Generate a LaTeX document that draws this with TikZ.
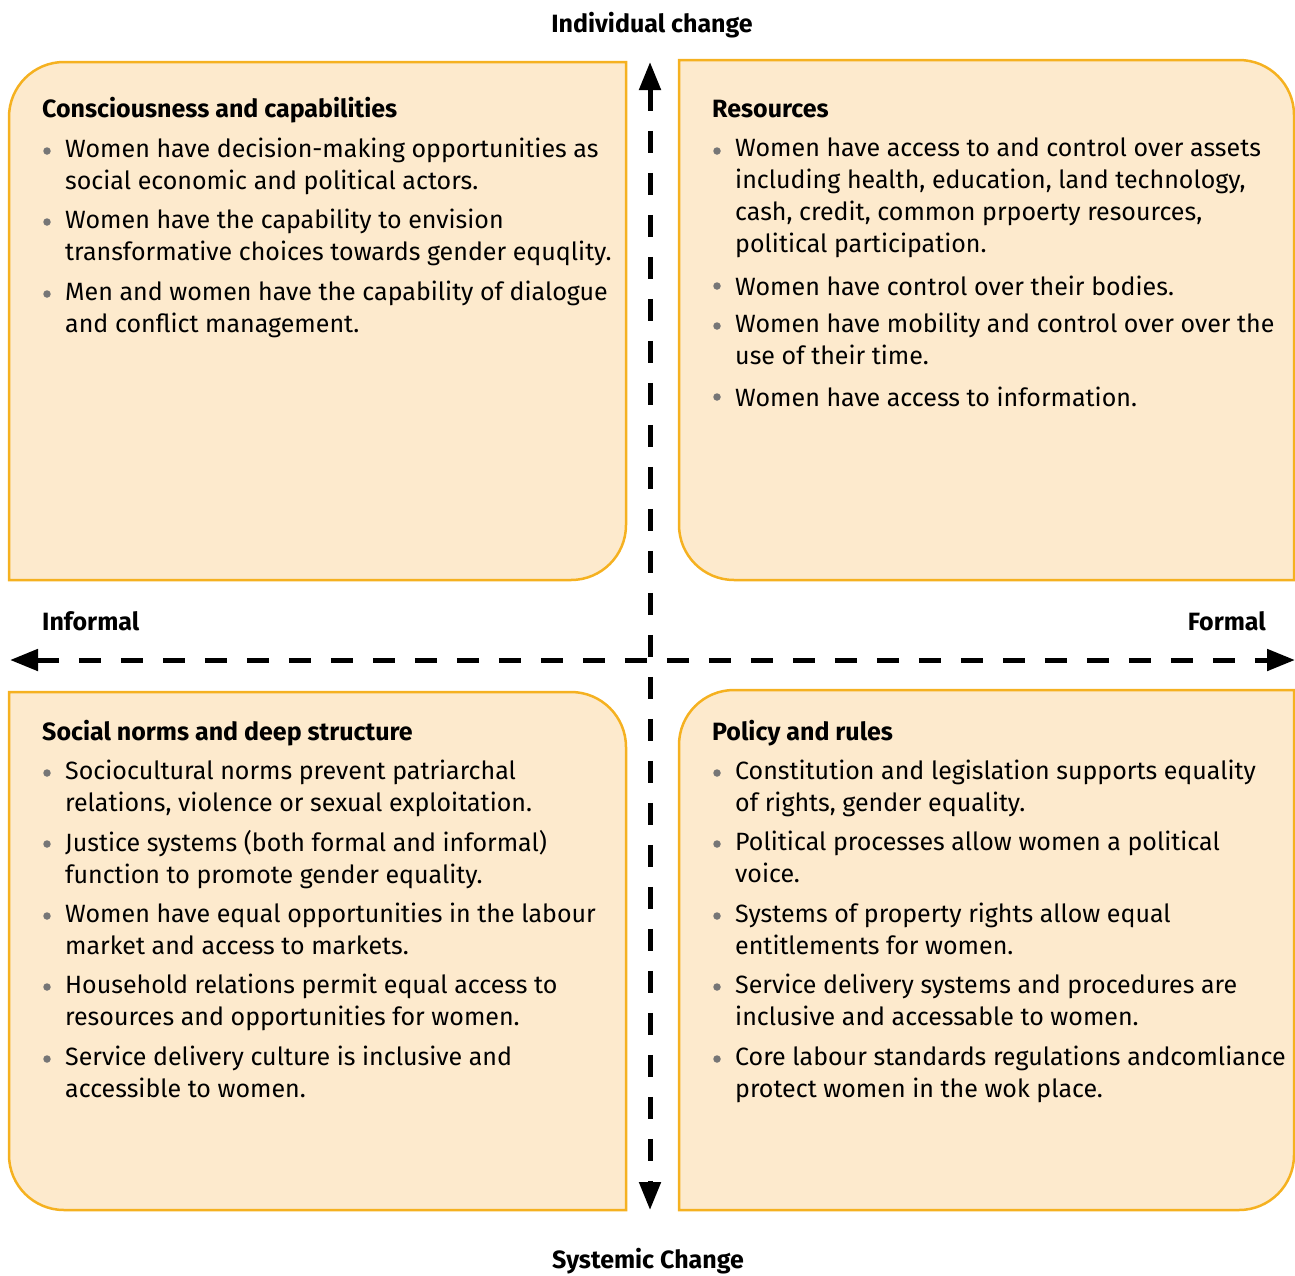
\documentclass[tikz,border=0pt]{standalone}
\usepackage{fontspec}
\setmainfont{Fira Sans}
\usetikzlibrary{arrows.meta}
\definecolor{boxfill}{HTML}{FDEACD}
\definecolor{boxline}{HTML}{F5B120}
\definecolor{dotgray}{HTML}{767676}
\begin{document}
\begin{tikzpicture}[x=1pt,y=-1pt,
    quad/.style={fill=boxfill,draw=boxline,line width=2.5pt},
    head/.style={anchor=base west,inner sep=0pt,font=\fontsize{25}{32}\selectfont\bfseries},
    item/.style={anchor=north west,inner sep=0pt,align=left,font=\fontsize{25}{32}\selectfont,execute at begin node=\strut},
    dot/.style={circle,fill=dotgray,inner sep=0pt,minimum size=7.5pt},
    axislabel/.style={inner sep=0pt,font=\fontsize{25}{32}\selectfont\bfseries},
    axis/.style={line width=5pt,dash pattern=on 22pt off 20pt,{Triangle[length=28pt,width=21pt]}-{Triangle[length=28pt,width=21pt]}}]
    \useasboundingbox (0,0) rectangle (1295,1275);

    % the four quadrants
    \filldraw[quad] (9,580) -- (9,117) .. controls (9,86.6) and (33.6,62) .. (64,62) -- (626,62) -- (626,525) .. controls (626,555.4) and (601.4,580) .. (571,580) -- cycle;
    \filldraw[quad] (679,60) -- (1239,60) .. controls (1269.4,60) and (1294,84.6) .. (1294,115) -- (1294,580) -- (734,580) .. controls (703.6,580) and (679,555.4) .. (679,525) -- cycle;
    \filldraw[quad] (9,692) -- (571,692) .. controls (601.4,692) and (626,716.6) .. (626,747) -- (626,1210) -- (64,1210) .. controls (33.6,1210) and (9,1185.4) .. (9,1155) -- cycle;
    \filldraw[quad] (679,745) .. controls (679,714.6) and (703.6,690) .. (734,690) -- (1294,690) -- (1294,1155) .. controls (1294,1185.4) and (1269.4,1210) .. (1239,1210) -- (679,1210) -- cycle;

    % axes
    \coordinate (top) at (650,62);
    \coordinate (bottom) at (650,1210);
    \coordinate (left) at (10,660);
    \coordinate (right) at (1295,660);
    \draw[axis] (left) -- (right);
    \draw[axis] (top) -- (bottom);

    \node[axislabel,anchor=base] (indiv) at (652,32) {Individual change};
    \node[axislabel,anchor=base] (system) at (648,1268) {Systemic Change};
    \node[axislabel,anchor=base west] (informal) at (42,630) {Informal};
    \node[axislabel,anchor=base east] (formal) at (1266,630) {Formal};

    % top left
    \node[head] (consc) at (42,117) {Consciousness and capabilities};
    \foreach \y/\txt in {158/{Women have decision-making opportunities as\\social economic and political actors.},
                         229/{Women have the capability to envision\\transformative choices towards gender equqlity.},
                         301/{Men and women have the capability of dialogue\\and conflict management.}}
    {
        \node[dot] (dotTL\y) at (47,\y-7) {};
        \node[item] (itemTL\y) at (65,\y-20.4) {\txt};
    }

    % top right
    \node[head] (res) at (712,117) {Resources};
    \foreach \y/\txt in {158/{Women have access to and control over assets\\including health, education, land technology,\\cash, credit, common prpoerty resources,\\political participation.},
                         293/{Women have control over their bodies.},
                         333/{Women have mobility and control over over the\\use of their time.},
                         404/{Women have access to information.}}
    {
        \node[dot] (dotTR\y) at (717,\y-7) {};
        \node[item] (itemTR\y) at (735,\y-20.4) {\txt};
    }

    % bottom left
    \node[head] (norms) at (42,740) {Social norms and deep structure};
    \foreach \y/\txt in {780/{Sociocultural norms prevent patriarchal\\relations, violence or sexual exploitation.},
                         851/{Justice systems (both formal and informal)\\function to promote gender equality.},
                         923/{Women have equal opportunities in the labour\\market and access to markets.},
                         994/{Household relations permit equal access to\\resources and opportunities for women.},
                         1066/{Service delivery culture is inclusive and\\accessible to women.}}
    {
        \node[dot] (dotBL\y) at (47,\y-7) {};
        \node[item] (itemBL\y) at (65,\y-20.4) {\txt};
    }

    % bottom right
    \node[head] (policy) at (712,740) {Policy and rules};
    \foreach \y/\txt in {780/{Constitution and legislation supports equality\\of rights, gender equality.},
                         851/{Political processes allow women a political\\voice.},
                         923/{Systems of property rights allow equal\\entitlements for women.},
                         994/{Service delivery systems and procedures are\\inclusive and accessable to women.},
                         1066/{Core labour standards regulations andcomliance\\protect women in the wok place.}}
    {
        \node[dot] (dotBR\y) at (717,\y-7) {};
        \node[item] (itemBR\y) at (735,\y-20.4) {\txt};
    }
\end{tikzpicture}
\end{document}
